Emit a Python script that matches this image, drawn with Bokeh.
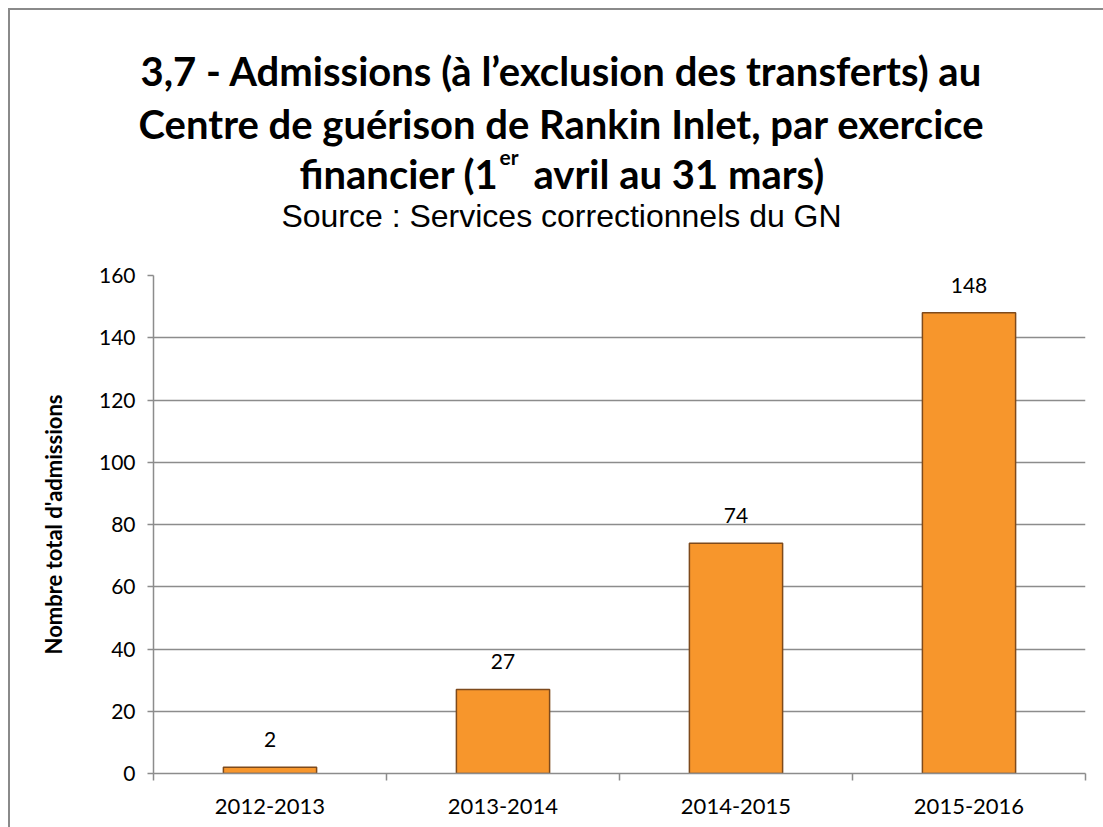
from bokeh.plotting import figure
from bokeh.models import ColumnDataSource, LabelSet, FixedTicker, Range1d
from bokeh.layouts import column
from bokeh.core.properties import value
from bokeh.embed import file_html
from bokeh.resources import INLINE

categories = ["2012-2013", "2013-2014", "2014-2015", "2015-2016"]
admissions = [2, 27, 74, 148]
y_ticks = [0, 20, 40, 60, 80, 100, 120, 140, 160]

title_line1 = "3,7 - Admissions (à l\u2019exclusion des transferts) au"
title_line2 = "Centre de guérison de Rankin Inlet, par exercice"
title_line3_a = "financier (1"
title_line3_sup = "er"
title_line3_b = "avril au 31 mars)"
subtitle = "Source : Services correctionnels du GN"
y_label = "Nombre total d'admissions"

TF = "Lato"
W = 1093
TH = 250  # height of the title band

# ---------- title band (its own small figure, canvas-pixel coordinates) ----------
t = figure(width=W, height=TH, output_backend="svg", toolbar_location=None,
           x_range=Range1d(0, W), y_range=Range1d(TH, 0),
           x_axis_location=None, y_axis_location=None,
           min_border_left=0, min_border_right=0, min_border_top=0, min_border_bottom=0)
t.frame_align = False
t.title = None
t.grid.visible = False
t.outline_line_color = None
t.border_fill_color = "white"
t.background_fill_color = "white"
CX = 551
common = dict(text_font=value(TF), text_font_style="bold", text_color="black",
              text_baseline="alphabetic")
t.text(x=[CX], y=[60], text=[title_line1], text_align="center", text_font_size="40px", **common)
t.text(x=[CX], y=[113], text=[title_line2], text_align="center", text_font_size="40px", **common)
t.text(x=[488], y=[163], text=[title_line3_a], text_align="right", text_font_size="40px", **common)
t.text(x=[489], y=[146], text=[title_line3_sup], text_align="left", text_font_size="21px", **common)
t.text(x=[523], y=[163], text=[title_line3_b], text_align="left", text_font_size="40px", **common)
t.text(x=[CX], y=[205], text=[subtitle], text_align="center", text_baseline="alphabetic",
       text_font=value("Liberation Sans"), text_font_size="32px", text_color="black")

# ---------- main chart ----------
xpos = [i + 0.5 for i in range(len(categories))]
src = ColumnDataSource(dict(x=xpos, top=admissions, lbl=[str(v) for v in admissions]))

p = figure(width=W, height=567, output_backend="svg", toolbar_location=None,
           x_range=Range1d(0, len(categories)), y_range=Range1d(0, 160),
           min_border_left=143, min_border_right=18, min_border_bottom=54,
           min_border_top=15)
p.frame_align = False
p.title = None
p.outline_line_color = None
p.background_fill_color = "white"
p.border_fill_color = "white"

p.vbar(x="x", top="top", width=0.4, bottom=0, source=src,
       fill_color="#F7962C", line_color="#7E4A1C", line_width=1.5)

labels = LabelSet(x="x", y="top", text="lbl", source=src, y_offset=20,
                  text_align="center", text_baseline="bottom",
                  text_font=value(TF), text_font_size="21px", text_color="black")
p.add_layout(labels)

# y axis
p.yaxis.ticker = FixedTicker(ticks=y_ticks)
p.yaxis.axis_label = y_label
p.yaxis.axis_label_text_font = TF
p.yaxis.axis_label_text_font_style = "bold"
p.yaxis.axis_label_text_font_size = "22px"
p.yaxis.axis_label_text_color = "black"
p.yaxis.axis_label_standoff = 29
p.yaxis.major_label_text_font = TF
p.yaxis.major_label_text_font_size = "21px"
p.yaxis.major_label_text_color = "black"
p.yaxis.axis_line_color = "#8c8c8c"
p.yaxis.axis_line_width = 1.5
p.yaxis.major_tick_line_color = "#8c8c8c"
p.yaxis.major_tick_line_width = 1.5
p.yaxis.major_tick_out = 6
p.yaxis.major_tick_in = 0
p.yaxis.minor_tick_line_color = None
p.yaxis.major_label_standoff = 12

# x axis: labels at band centres, ticks at band boundaries
p.xaxis.ticker = FixedTicker(ticks=xpos, minor_ticks=list(range(len(categories) + 1)))
p.xaxis.major_label_overrides = {x: c for x, c in zip(xpos, categories)}
p.xaxis.major_label_text_font = TF
p.xaxis.major_label_text_font_size = "22px"
p.xaxis.major_label_text_color = "black"
p.xaxis.major_tick_line_color = None
p.xaxis.minor_tick_line_color = "#8c8c8c"
p.xaxis.minor_tick_line_width = 1.5
p.xaxis.minor_tick_out = 7
p.xaxis.minor_tick_in = 0
p.xaxis.axis_line_color = "#8c8c8c"
p.xaxis.axis_line_width = 1.5
p.xaxis.major_label_standoff = 18

p.xgrid.grid_line_color = None
p.ygrid.ticker = FixedTicker(ticks=y_ticks)
p.ygrid.grid_line_color = "#8c8c8c"
p.ygrid.grid_line_width = 1.5

layout = column(t, p, spacing=0)
layout.styles = {"margin-left": "8px", "margin-top": "8px",
                 "border-left": "2px solid #8a8a8a", "border-top": "2px solid #8a8a8a",
                 "background-color": "white"}

open("out.html", "w").write(file_html(layout, INLINE))
